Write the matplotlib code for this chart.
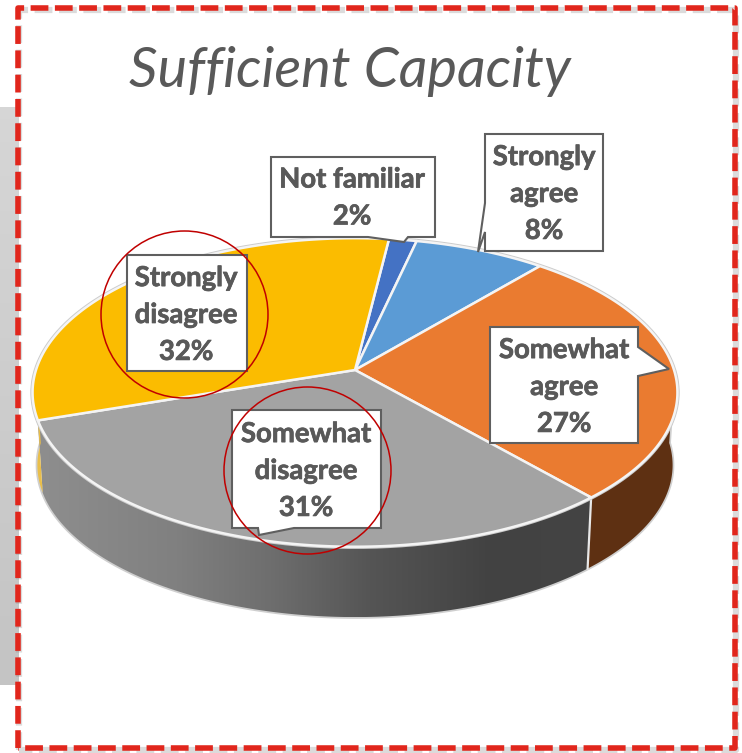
"""Sufficient Capacity - 3D pie with callout labels, drawn in pixel coords."""
import numpy as np
import matplotlib
matplotlib.use('Agg')
import matplotlib.pyplot as plt
from matplotlib.patches import Polygon, Circle
from matplotlib.colors import LinearSegmentedColormap
import matplotlib.patheffects as pe

# data
CATEGORIES = ['Not familiar', 'Strongly agree', 'Somewhat agree', 'Somewhat disagree', 'Strongly disagree']
LABEL_LINES = ['Not familiar', 'Strongly\nagree', 'Somewhat\nagree', 'Somewhat\ndisagree', 'Strongly\ndisagree']
PERCENTS = [1.6, 7.6, 27.4, 31.3, 32.1]
TOP_COLORS = ['#4472C4', '#5B9BD5', '#EA7B30', '#A3A3A3', '#FBBC00']
TITLE = 'Sufficient Capacity'

# pie geometry (pixels)
START_DEG = 7.0
CX, CY = 355, 370
A, B, K = 319, 151, 0.1456
DROP, BOTTOM_SCALE = 73, 0.985

# callouts: outline with pointer
CALLOUTS = [
    [(271, 157), (435, 157), (435, 237), (408, 237), (404, 242), (368, 237), (271, 237)],
    [(485, 134), (603, 134), (603, 251), (485, 251), (485, 232), (478, 252), (485, 203)],
    [(490, 327), (638, 327), (638, 347), (669, 369), (638, 376), (638, 443), (490, 443)],
    [(232, 410), (381, 410), (381, 528), (294, 528), (259, 535), (258, 528), (232, 528)],
    [(127, 255), (247, 255), (247, 371), (127, 371)],
]
TEXT_CENTERS = [(352, 198), (544, 194), (564, 387), (306, 471), (186, 315)]
RING_CENTERS = [(184.5, 314.5), (307.5, 470.5)]
RING_R = 83.5


def project(deg, bottom=False):
    # deg runs clockwise from the top of the pie
    t = np.radians(deg)
    x, y = np.sin(t), np.cos(t)
    s = 1 / (1 + K * y)
    px, py = A * x * s, -B * y * s
    if bottom:
        return CX + px * BOTTOM_SCALE, CY + py * BOTTOM_SCALE + DROP
    return CX + px, CY + py


def arc(d0, d1, bottom=False):
    d = np.linspace(d0, d1, max(int(abs(d1 - d0) * 2), 2))
    x, y = project(d, bottom)
    return np.column_stack([x, y])


fig = plt.figure(figsize=(7.42, 7.53), dpi=100)
ax = fig.add_axes([0, 0, 1, 1])
ax.axis('off')

# grey slide strip behind the frame
strip = LinearSegmentedColormap.from_list('strip', ['#d6d6d6', '#c4c4c4'])
ax.imshow(np.linspace(0, 1, 50).reshape(-1, 1), cmap=strip, extent=(0, 19, 685, 107), aspect='auto', zorder=1)

# frame
frame = [(18, 748), (18, 8), (735, 8), (735, 748), (18, 748)]
fx, fy = zip(*frame)
ax.plot(np.array(fx) + 1, np.array(fy) + 2, color='#888888', alpha=0.3, lw=4.5,
        dashes=(2.85, 1.05), zorder=2)
ax.plot(fx, fy, color='#E1261C', lw=4, dashes=(3.2, 1.17), zorder=3)

# wedge boundaries
edges = START_DEG + np.cumsum([0] + PERCENTS) * 3.6

# rim shadow line under everything
all_bottom = arc(90, 270, True)
all_top = arc(90, 270)
ax.fill(np.r_[all_top[:, 0], all_bottom[::-1, 0]], np.r_[all_top[:, 1], all_bottom[::-1, 1]],
        facecolor='white', edgecolor='#cfcfcf', lw=2.5, zorder=4)

# side walls of the visible front half
gray_side = LinearSegmentedColormap.from_list(
    'gray_side', [(0, '#8e8e8e'), (0.25, '#808080'), (0.42, '#6e6e6e'), (0.6, '#555555'), (0.82, '#424242'), (1, '#444444')])
side_solid = {2: '#5E3012', 4: '#E9BE4A'}
for i, (d0, d1) in enumerate(zip(edges[:-1], edges[1:])):
    lo, hi = max(d0, 90), min(d1, 270)
    if hi <= lo:
        continue
    top, bot = arc(lo, hi), arc(lo, hi, True)
    pts = np.vstack([top, bot[::-1]])
    if i == 3:
        p = Polygon(pts, closed=True, transform=ax.transData, facecolor='none', edgecolor='none')
        ax.add_patch(p)
        im = ax.imshow(np.linspace(0, 1, 256).reshape(1, -1), cmap=gray_side,
                       extent=(pts[:, 0].min(), pts[:, 0].max(), pts[:, 1].max(), pts[:, 1].min()),
                       aspect='auto', zorder=5)
        im.set_clip_path(p)
    else:
        ax.add_patch(Polygon(pts, closed=True, facecolor=side_solid.get(i, '#777777'), edgecolor='none', zorder=5))

# wall seam between orange and grey
sx0, sy0 = project(edges[3])
sx1, sy1 = project(edges[3], True)
ax.plot([sx0, sx1], [sy0, sy1], color='#e8e8e8', lw=1.6, zorder=6)

# top face
rim = arc(0, 360)
ax.plot(rim[:, 0], rim[:, 1], color='#cccccc', lw=3.2, zorder=6)
for i, (d0, d1) in enumerate(zip(edges[:-1], edges[1:])):
    pts = np.vstack([[CX, CY], arc(d0, d1)])
    ax.add_patch(Polygon(pts, closed=True, facecolor=TOP_COLORS[i], edgecolor='#f4f4f4', lw=1.8,
                         joinstyle='round', zorder=7))

# callouts
for outline, center, lines, pct in zip(CALLOUTS, TEXT_CENTERS, LABEL_LINES, PERCENTS):
    ax.add_patch(Polygon(outline, closed=True, facecolor='white', edgecolor='#5f5f5f', lw=1.5,
                         joinstyle='miter', zorder=8))
    ax.text(center[0], center[1], f'{lines}\n{round(pct)}%', ha='center', va='center', family='Lato',
            fontweight='bold', fontsize=19.8, color='#595959', linespacing=1.52, zorder=10,
            path_effects=[pe.withStroke(linewidth=0.5, foreground='#595959')])

# red highlight rings
for c in RING_CENTERS:
    ax.add_patch(Circle(c, RING_R, fill=False, edgecolor='#C00000', lw=1.1, zorder=9))

ax.text(350, 71, TITLE, ha='center', va='center', family='Lato', style='italic',
        fontsize=40.3, color='#595959', zorder=10)

ax.set_xlim(0, 742)
ax.set_ylim(753, 0)
fig.savefig('out.png', dpi=100, facecolor='white')
